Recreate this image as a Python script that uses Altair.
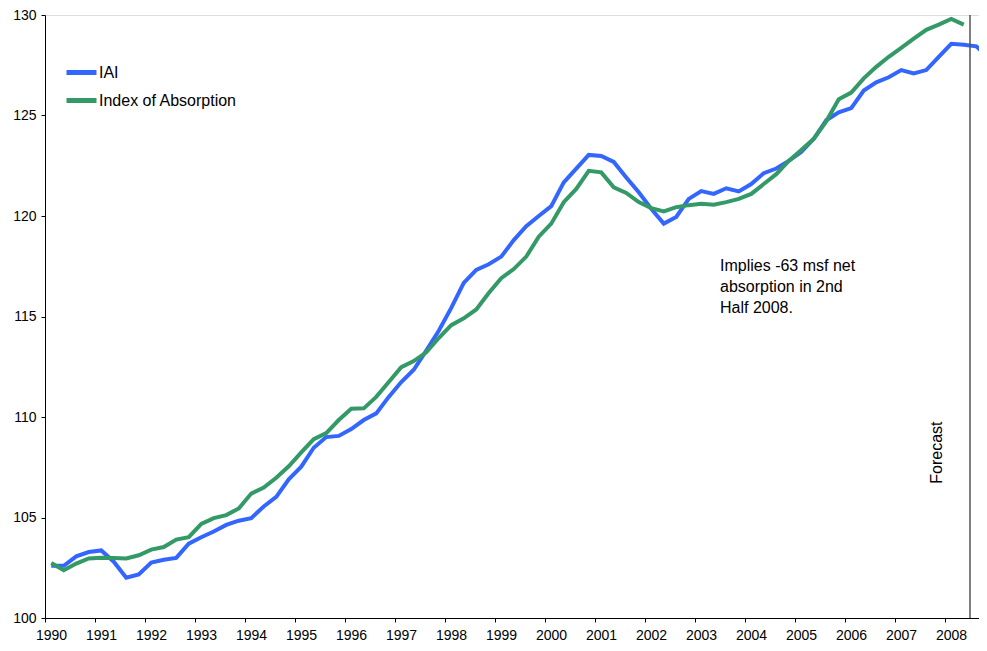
import altair as alt
import pandas as pd

# ---------------- data ----------------
years = list(range(1990, 2009))
quarters = [f"{y} Q{q}" for y in years for q in range(1, 5)]

iai = [102.6, 102.6, 103.07, 103.28, 103.36, 102.8, 102.0, 102.17,
       102.76, 102.9, 102.99, 103.7, 104.02, 104.3, 104.63, 104.84,
       104.97, 105.55, 106.03, 106.9, 107.53, 108.47, 109.0, 109.06,
       109.4, 109.85, 110.18, 111.0, 111.74, 112.35, 113.3, 114.29,
       115.43, 116.67, 117.32, 117.6, 117.98, 118.8, 119.49, 120.0,
       120.49, 121.67, 122.36, 123.04, 122.99, 122.69, 121.92, 121.18,
       120.36, 119.62, 119.95, 120.85, 121.24, 121.1, 121.38, 121.22,
       121.59, 122.13, 122.36, 122.74, 123.19, 123.84, 124.76, 125.16,
       125.37, 126.24, 126.65, 126.9, 127.26, 127.09, 127.26, 127.92,
       128.57, 128.52, 128.44, 127.9]

absorption = [102.74, 102.38, 102.71, 102.96, 103.0, 102.99, 102.96, 103.12,
              103.4, 103.53, 103.9, 104.02, 104.68, 104.97, 105.12, 105.45,
              106.19, 106.49, 106.98, 107.55, 108.24, 108.9, 109.2, 109.85,
              110.41, 110.43, 111.0, 111.74, 112.48, 112.78, 113.22, 113.93,
              114.57, 114.91, 115.35, 116.17, 116.91, 117.36, 117.98, 118.97,
              119.62, 120.69, 121.35, 122.25, 122.17, 121.43, 121.15, 120.69,
              120.39, 120.23, 120.44, 120.54, 120.61, 120.56, 120.69, 120.85,
              121.1, 121.59, 122.08, 122.74, 123.28, 123.84, 124.71, 125.81,
              126.14, 126.85, 127.42, 127.92, 128.36, 128.82, 129.26, 129.52,
              129.8, 129.52]

series_names = ["IAI", "Index of Absorption"]
series_colors = ["#3366ff", "#339966"]

forecast_start = 2008.5          # boundary between 2008 Q2 and Q3
forecast_label = "Forecast"
forecast_label_pos = (2007.84, 108.23)

note_lines = ["Implies -63 msf net", "absorption in 2nd", "Half 2008."]
note_pos = (2003.5, 117.25)

y_ticks = [100, 105, 110, 115, 120, 125, 130]

# ---------------- table ----------------
rows = []
for name, vals in zip(series_names, [iai, absorption]):
    for i, v in enumerate(vals):
        rows.append({"t": 1990 + (i + 0.5) / 4, "quarter": quarters[i],
                     "series": name, "value": v})
df = pd.DataFrame(rows)

FONT = "Liberation Sans"

x_scale = alt.Scale(domain=[1990, 2008.68], nice=False, zero=False)
y_scale = alt.Scale(domain=[100, 130], nice=False, zero=False)

x_axis = alt.Axis(values=years, format="d", title=None, grid=False,
                  labelOffset=6, tickSize=4, labelPadding=6,
                  labelFontSize=14, labelColor="#000",
                  domainColor="#000", tickColor="#000", labelFlush=False,
                  labelOverlap=False)
y_axis = alt.Axis(values=y_ticks, title=None, grid=False, tickSize=4,
                  labelPadding=5, labelFontSize=14, labelColor="#000",
                  domainColor="#000", tickColor="#000")

lines = alt.Chart(df).mark_line(strokeWidth=4, clip=True).encode(
    x=alt.X("t:Q", scale=x_scale, axis=x_axis),
    y=alt.Y("value:Q", scale=y_scale, axis=y_axis),
    color=alt.Color(
        "series:N",
        scale=alt.Scale(domain=series_names, range=series_colors),
        legend=alt.Legend(
            title=None, orient="none", legendX=19, legendY=40,
            symbolType="stroke", symbolSize=900, symbolStrokeWidth=5,
            labelFontSize=16, labelColor="#000", labelFont=FONT,
            labelOffset=0, rowPadding=-4, padding=0,
        ),
    ),
)

rule_df = pd.DataFrame({"x": [forecast_start], "y": [100], "y2": [130]})
rule = alt.Chart(rule_df).mark_rule(color="#555", strokeWidth=1.5).encode(
    x=alt.X("x:Q", scale=x_scale),
    y=alt.Y("y:Q", scale=y_scale),
    y2="y2:Q",
)

fc_df = pd.DataFrame({"x": [forecast_label_pos[0]], "y": [forecast_label_pos[1]],
                      "text": [forecast_label]})
fc_text = alt.Chart(fc_df).mark_text(
    angle=270, fontSize=16, font=FONT, color="#000",
    align="center", baseline="middle",
).encode(x=alt.X("x:Q", scale=x_scale), y=alt.Y("y:Q", scale=y_scale),
         text="text:N")

note_df = pd.DataFrame({"x": [note_pos[0]], "y": [note_pos[1]],
                        "text": ["\n".join(note_lines)]})
note_text = alt.Chart(note_df).mark_text(
    fontSize=16, font=FONT, color="#000", align="left",
    baseline="alphabetic", lineBreak="\n", lineHeight=21,
).encode(x=alt.X("x:Q", scale=x_scale), y=alt.Y("y:Q", scale=y_scale),
         text="text:N")

chart = alt.layer(lines, rule, fc_text, note_text).properties(
    width=934, height=603,
    padding={"left": 37, "top": 7, "right": 0, "bottom": 23},
    autosize=alt.AutoSizeParams(type="none"),
).configure_view(stroke=None).configure(font=FONT)

chart.save("out.html", embed_options={"renderer": "svg", "actions": False})
